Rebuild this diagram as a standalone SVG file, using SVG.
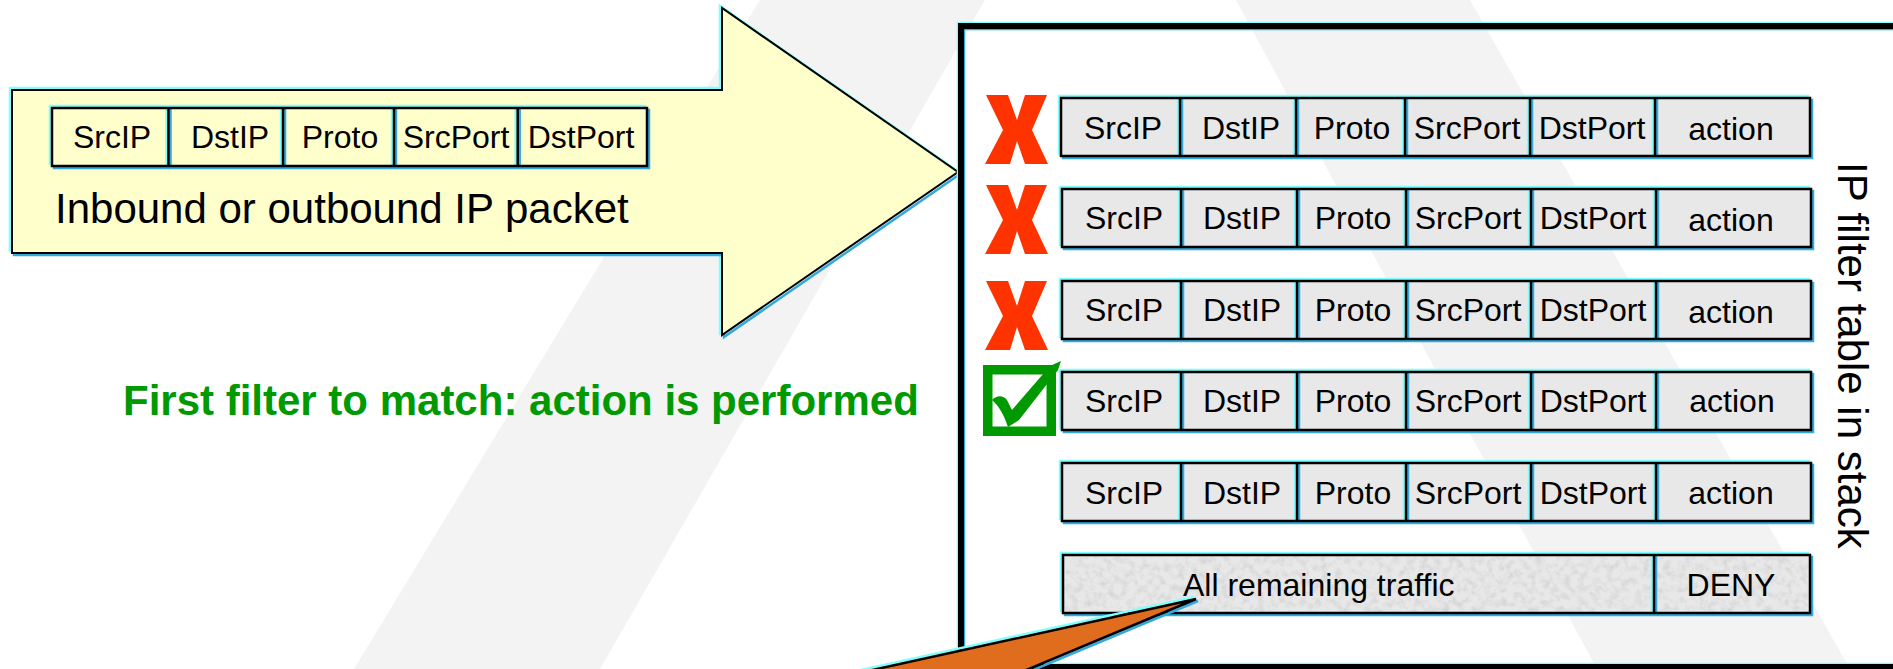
<svg xmlns="http://www.w3.org/2000/svg" width="1893" height="669" viewBox="0 0 1893 669">
  <defs>
    <style>
      .hi { fill: none; stroke: #80ffff; stroke-width: 2.5; }
      .lo { fill: none; stroke: #33aadd; stroke-width: 2.5; }
      .ln { fill: none; stroke: #000; stroke-width: 2.5; }
      .band { fill: #f3f3f3; }
      .cellfill { fill: #e8e8e8; }
      .hdrfill { fill: #ffffcc; }
      .t { font-family: "Liberation Sans", Arial, sans-serif; font-size: 32px; fill: #000; text-anchor: middle; }
      .big { font-family: "Liberation Sans", Arial, sans-serif; font-size: 42px; fill: #000; }
      .note { font-family: "Liberation Sans", Arial, sans-serif; font-size: 42px; font-weight: bold; fill: #009900; }
      .xmark { fill: #ff3300; }
    </style>

    <!-- speckled grey texture for the default rule -->
    <filter id="granite" x="0" y="0" width="1" height="1">
      <feTurbulence type="fractalNoise" baseFrequency="0.14" numOctaves="4" seed="7" result="noise"/>
      <feColorMatrix in="noise" type="matrix" values="0 0 0 0 0.55  0 0 0 0 0.55  0 0 0 0 0.55  1.2 0 0 0 -0.5" result="spots"/>
      <feComposite in="spots" in2="SourceGraphic" operator="in"/>
    </filter>

    <!-- one filter rule: six fields with bevelled outline (local coords) -->
    <g id="ruleFrame">
      <rect class="hi" x="-2" y="-2" width="749" height="58"/>
      <rect class="lo" x="2" y="2" width="749" height="58"/>
      <rect class="cellfill" x="0" y="0" width="749" height="58"/>
      <path class="hi" d="M117 0V58M233 0V58M342 0V58M467 0V58M592 0V58"/>
      <path class="lo" d="M121 0V58M237 0V58M346 0V58M471 0V58M596 0V58"/>
      <path class="ln" d="M119 0V58M235 0V58M344 0V58M469 0V58M594 0V58"/>
      <rect class="ln" x="0" y="0" width="749" height="58"/>
    </g>

    <!-- red cross for a rule that did not match -->
    <path id="cross" class="xmark" d="M1 0H23L32 25L40 0H62L47 35L63 69H40L32 46L25 69H0L18 35Z"/>
  </defs>

  <!-- background -->
  <rect x="0" y="0" width="1893" height="669" fill="#ffffff"/>
  <polygon class="band" points="760,0 985,0 600,669 354,669"/>
  <polygon class="band" points="1236,0 1470,0 1850,669 1597,669"/>

  <!-- incoming packet arrow -->
  <g id="packet">
    <polygon class="hi" stroke-width="3" transform="translate(-2,-2)" points="12,90 722,90 722,8 958,172 722,335 722,253 12,253"/>
    <polygon class="lo" stroke-width="3" transform="translate(2,2)" points="12,90 722,90 722,8 958,172 722,335 722,253 12,253"/>
    <polygon fill="#ffffcc" stroke="#000" stroke-width="2" stroke-linejoin="miter" points="12,90 722,90 722,8 958,172 722,335 722,253 12,253"/>

    <g id="packet-header">
      <rect class="hi" x="50" y="106" width="595" height="58"/>
      <rect class="lo" x="54" y="110" width="595" height="58"/>
      <rect class="hdrfill" x="52" y="108" width="595" height="58"/>
      <path class="hi" d="M166.5 108V166M281 108V166M392 108V166M515.7 108V166"/>
      <path class="lo" d="M170.5 108V166M285 108V166M396 108V166M519.7 108V166"/>
      <path class="ln" d="M168.5 108V166M283 108V166M394 108V166M517.7 108V166"/>
      <rect class="ln" x="52" y="108" width="595" height="58"/>
      <text class="t" x="112" y="148">SrcIP</text>
      <text class="t" x="230" y="148">DstIP</text>
      <text class="t" x="340" y="148">Proto</text>
      <text class="t" x="456" y="148">SrcPort</text>
      <text class="t" x="581" y="148">DstPort</text>
    </g>
    <text class="big" x="55" y="223">Inbound or outbound IP packet</text>
  </g>

  <!-- caption -->
  <g id="caption">
    <text class="note" x="123" y="415">First filter to match: action is performed</text>
  </g>

  <!-- filter table frame -->
  <g id="filter-table">
    <rect class="hi" stroke-width="6" x="958" y="23" width="1000" height="641"/>
    <rect class="lo" stroke-width="6" x="964" y="29" width="1000" height="641"/>
    <rect fill="none" stroke="#000" stroke-width="6" x="961" y="26" width="1000" height="641"/>
    <text class="big" transform="translate(1838,162) rotate(90)">IP filter table in stack</text>
  </g>

  <!-- rules -->
  <g id="rule-1">
    <use href="#ruleFrame" x="1061" y="98"/>
    <text class="t" x="1123" y="139">SrcIP</text>
    <text class="t" x="1241" y="139">DstIP</text>
    <text class="t" x="1352" y="139">Proto</text>
    <text class="t" x="1467" y="139">SrcPort</text>
    <text class="t" x="1592" y="139">DstPort</text>
    <text class="t" x="1731" y="140">action</text>
  </g>
  <g id="rule-2">
    <use href="#ruleFrame" x="1062" y="189"/>
    <text class="t" x="1124" y="229">SrcIP</text>
    <text class="t" x="1242" y="229">DstIP</text>
    <text class="t" x="1353" y="229">Proto</text>
    <text class="t" x="1468" y="229">SrcPort</text>
    <text class="t" x="1593" y="229">DstPort</text>
    <text class="t" x="1731" y="231">action</text>
  </g>
  <g id="rule-3">
    <use href="#ruleFrame" x="1062" y="281"/>
    <text class="t" x="1124" y="321">SrcIP</text>
    <text class="t" x="1242" y="321">DstIP</text>
    <text class="t" x="1353" y="321">Proto</text>
    <text class="t" x="1468" y="321">SrcPort</text>
    <text class="t" x="1593" y="321">DstPort</text>
    <text class="t" x="1731" y="323">action</text>
  </g>
  <g id="rule-4">
    <use href="#ruleFrame" x="1062" y="372"/>
    <text class="t" x="1124" y="412">SrcIP</text>
    <text class="t" x="1242" y="412">DstIP</text>
    <text class="t" x="1353" y="412">Proto</text>
    <text class="t" x="1468" y="412">SrcPort</text>
    <text class="t" x="1593" y="412">DstPort</text>
    <text class="t" x="1732" y="412">action</text>
  </g>
  <g id="rule-5">
    <use href="#ruleFrame" x="1062" y="463"/>
    <text class="t" x="1124" y="504">SrcIP</text>
    <text class="t" x="1242" y="504">DstIP</text>
    <text class="t" x="1353" y="504">Proto</text>
    <text class="t" x="1468" y="504">SrcPort</text>
    <text class="t" x="1593" y="504">DstPort</text>
    <text class="t" x="1731" y="504">action</text>
  </g>
  <g id="rule-default">
    <rect class="hi" x="1061" y="553" width="747" height="58"/>
    <rect class="lo" x="1065" y="557" width="747" height="58"/>
    <rect class="cellfill" x="1063" y="555" width="747" height="58"/>
    <rect x="1063" y="555" width="747" height="58" fill="#fff" filter="url(#granite)"/>
    <path class="hi" d="M1652 555V613"/>
    <path class="lo" d="M1656 555V613"/>
    <path class="ln" d="M1654 555V613"/>
    <rect class="ln" x="1063" y="555" width="747" height="58"/>
    <text class="t" x="1183" y="596" style="text-anchor:start">All remaining traffic</text>
    <text class="t" x="1731" y="596">DENY</text>
  </g>

  <!-- match markers -->
  <g id="miss-1"><use href="#cross" x="985" y="95"/></g>
  <g id="miss-2"><use href="#cross" x="985" y="185"/></g>
  <g id="miss-3"><use href="#cross" x="985" y="281"/></g>
  <g id="hit">
    <rect x="987.75" y="369.75" width="63.5" height="61.5" fill="#ffffff" stroke="#009900" stroke-width="9.5"/>
    <path fill="#009900" d="M992 400C997 395 1003 395 1007 400L1012 410L1050 366L1061 361L1058 370L1019 420L1008 427C1004 415 999 406 992 400Z"/>
  </g>

  <!-- callout pointer to the default rule -->
  <g id="connectors">
    <polygon class="hi" stroke-width="3" transform="translate(-2,-2)" points="1196,599 845,676 1012,676"/>
    <polygon class="lo" stroke-width="3" transform="translate(2,2)" points="1196,599 845,676 1012,676"/>
    <polygon fill="#e06c1e" stroke="#000" stroke-width="2.5" points="1196,599 845,676 1012,676"/>
  </g>
</svg>
